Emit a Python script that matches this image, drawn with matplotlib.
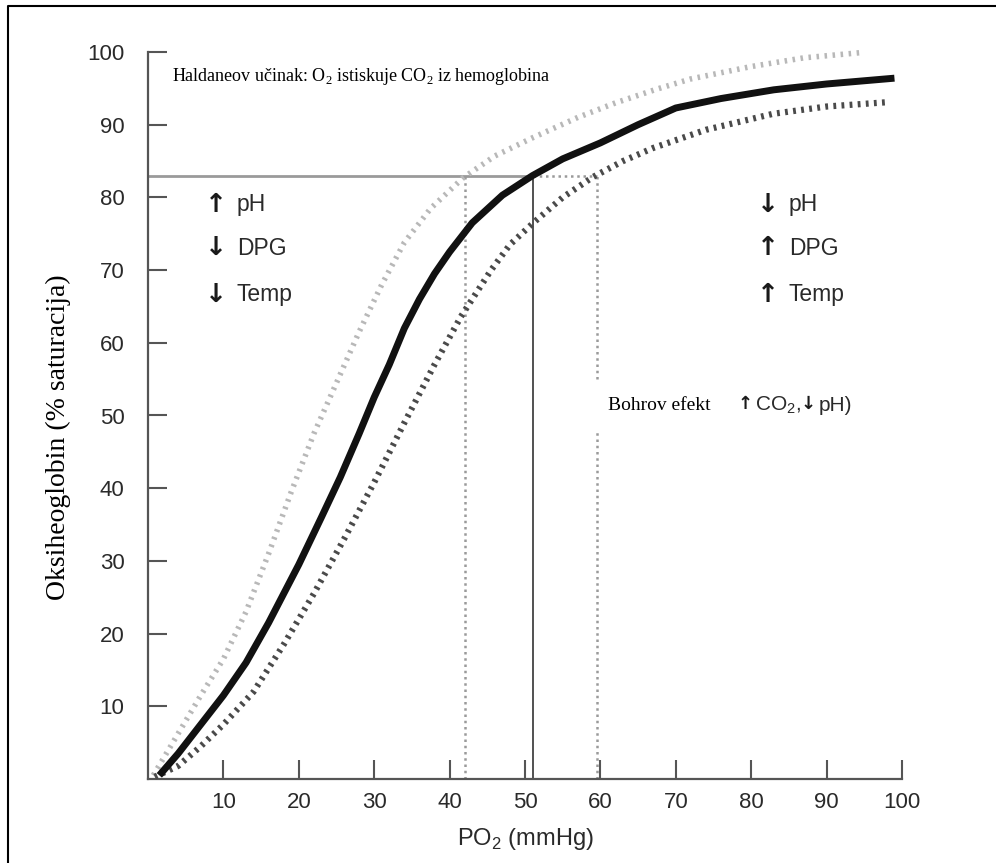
import matplotlib.pyplot as plt
from matplotlib.lines import Line2D

plt.rcParams['mathtext.fontset'] = 'custom'
plt.rcParams['mathtext.rm'] = 'Liberation Serif'
plt.rcParams['mathtext.sf'] = 'Liberation Sans'

# normal curve (solid)
normal_po2 = [1.5, 4, 7, 10, 13, 16, 20, 23, 25.5, 28, 30, 32, 34, 36, 38, 40, 43, 47, 51,
              55, 60, 65, 70, 76, 83, 90, 99]
normal_sat = [0.5, 3.5, 7.5, 11.5, 16, 21.5, 29.5, 36, 41.5, 47.5, 52.5, 57, 62, 66, 69.5, 72.5, 76.5, 80.3, 83,
              85.3, 87.5, 90, 92.3, 93.6, 94.8, 95.6, 96.4]

# left-shifted curve (light dotted)
left_po2 = [0.7, 3, 5, 7, 10, 13, 16, 19, 22, 25, 28, 31, 34, 37.5, 41.8, 46, 51, 57, 62, 67.5,
            72, 80, 87, 94.4]
left_sat = [0.5, 4.5, 8, 11.5, 16.5, 23, 31, 39.5, 47.5, 54.5, 61.5, 68, 73.8, 78.5, 82.7, 85.7, 88.2, 91, 93, 94.9,
            96.3, 98, 99.2, 99.9]

# right-shifted curve (dark dotted)
right_po2 = [0.9, 4, 7, 10, 14, 18, 22, 26, 30, 34, 38, 41.5, 45.5, 48, 51.1, 55, 59, 63, 67,
             74, 82.9, 90, 98.1]
right_sat = [0.3, 1.8, 4.5, 7.5, 12, 18.5, 25.5, 33, 40.8, 49, 57, 63.6, 70, 73.5, 76.5, 80, 82.8, 85, 86.8,
             89.3, 91.5, 92.5, 93.1]

# reference lines at 83 % saturation
ref_sat = 83
ref_left, ref_mid, ref_right = 42, 51.1, 59.5

ticks = [10, 20, 30, 40, 50, 60, 70, 80, 90, 100]

fig = plt.figure(figsize=(9.96, 8.63), dpi=100)
ax = fig.add_axes([148/996, 1 - 779/863, (902 - 148)/996, (779 - 52)/863])
ax.set_xlim(0, 100)
ax.set_ylim(0, 100)

ax.plot(left_po2, left_sat, color='#b8b8b8', lw=4, ls=(0, (0.45, 1.0)), clip_on=False, zorder=3)
ax.plot(right_po2, right_sat, color='#4a4a4a', lw=4.5, ls=(0, (0.45, 0.85)), clip_on=False, zorder=3)
ax.plot(normal_po2, normal_sat, color='#111111', lw=5, solid_capstyle='butt',
        solid_joinstyle='round', clip_on=False, zorder=4)

ax.plot([0, ref_mid], [ref_sat, ref_sat], color='#9a9a9a', lw=2, zorder=2)
ax.plot([ref_mid, ref_right], [ref_sat, ref_sat], color='#9a9a9a', lw=1.8, ls=(0, (1, 1.5)), zorder=2)
ax.plot([ref_left, ref_left], [0, ref_sat], color='#9a9a9a', lw=1.8, ls=(0, (1, 1.5)), zorder=2)
ax.plot([ref_right, ref_right], [0, ref_sat], color='#9a9a9a', lw=1.8, ls=(0, (1, 1.5)), zorder=2)
ax.plot([ref_mid, ref_mid], [0, ref_sat], color='#333333', lw=1.2, zorder=2)

for s in ['top', 'right']:
    ax.spines[s].set_visible(False)
for s in ['left', 'bottom']:
    ax.spines[s].set_color('#555555')
    ax.spines[s].set_linewidth(1.6)

ax.set_xticks(ticks)
ax.set_yticks(ticks)
ax.tick_params(direction='in', length=14, width=1.5, color='#555555',
               labelsize=16, labelcolor='#2a2a2a')
ax.tick_params(axis='y', pad=17)
ax.tick_params(axis='x', pad=9)
for lab in ax.get_xticklabels() + ax.get_yticklabels():
    lab.set_family('Liberation Sans')

ax.set_xlabel(r'PO$_\mathsf{2}$ (mmHg)', family='Liberation Sans', fontsize=17,
              color='#2a2a2a', labelpad=10)
ax.set_ylabel('Oksiheoglobin (% saturacija)', family='Liberation Serif', fontsize=20,
              color='black')
ax.yaxis.set_label_coords(-0.102, 0.47)

ax.text(3.2, 96.6, r'Haldaneov učinak: O$_2$ istiskuje CO$_2$ iz hemoglobina',
        family='Liberation Serif', fontsize=13, va='center', ha='left', zorder=6,
        bbox=dict(facecolor='white', edgecolor='none', pad=3))

sans = ['Liberation Sans', 'DejaVu Sans']
left_labels = [('↑', 'pH', 79), ('↓', 'DPG', 73), ('↓', 'Temp', 66.6)]
right_labels = [('↓', 'pH', 79), ('↑', 'DPG', 73), ('↑', 'Temp', 66.6)]
for arrow, txt, y in left_labels:
    ax.text(9.0, y, arrow, family='DejaVu Sans', fontweight='bold', fontsize=19,
            ha='center', va='center', color='#1a1a1a')
    ax.text(11.8, y, txt, family=sans, fontsize=16.5, ha='left', va='center', color='#2a2a2a')
for arrow, txt, y in right_labels:
    ax.text(82.2, y, arrow, family='DejaVu Sans', fontweight='bold', fontsize=19,
            ha='center', va='center', color='#1a1a1a')
    ax.text(85.0, y, txt, family=sans, fontsize=16.5, ha='left', va='center', color='#2a2a2a')

ax.text(61, 51.4, 'Bohrov efekt', family='Liberation Serif', fontsize=14,
        ha='left', va='center', zorder=6,
        bbox=dict(facecolor='white', edgecolor='none', pad=12))
ax.text(79.2, 51.6, '↑', family='DejaVu Sans', fontweight='bold', fontsize=13,
        ha='center', va='center', color='#1a1a1a', zorder=6)
ax.text(80.5, 51.4, r'CO$_\mathsf{2}$,', family='Liberation Sans', fontsize=15,
        ha='left', va='center', color='#2a2a2a', zorder=6)
ax.text(87.6, 51.6, '↓', family='DejaVu Sans', fontweight='bold', fontsize=13,
        ha='center', va='center', color='#1a1a1a', zorder=6)
ax.text(88.9, 51.4, 'pH)', family='Liberation Sans', fontsize=15,
        ha='left', va='center', color='#2a2a2a', zorder=6)

# figure frame (top and left edges visible)
x0 = 8 / 996
y1 = 1 - 6 / 863
fig.add_artist(Line2D([x0, x0, 1], [0, y1, y1], transform=fig.transFigure,
                      color='black', lw=1.5))

fig.savefig('out.png', dpi=100)
